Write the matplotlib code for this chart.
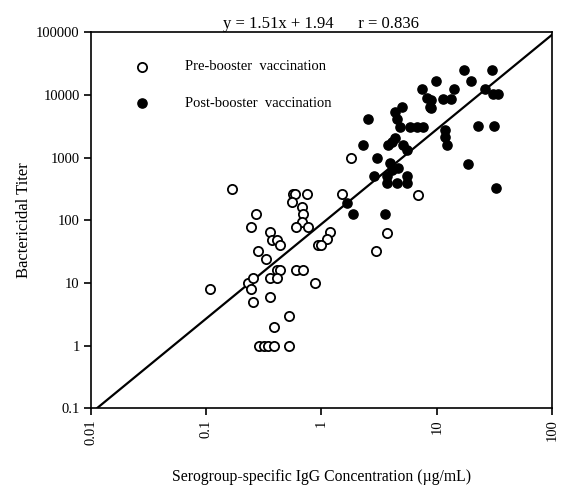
import numpy as np
import matplotlib
matplotlib.use('Agg')
from matplotlib import pyplot as plt
from matplotlib.ticker import FixedLocator, NullLocator

plt.rcParams['font.family'] = 'Liberation Serif'

# pre-booster (open circles)
pre_x = [0.108, 0.167, 0.27, 0.245, 0.357, 0.37, 0.414, 0.435, 0.279, 0.33,
         0.569, 0.59, 0.743, 0.56, 0.673, 0.69, 0.673, 0.6, 0.76, 0.94,
         0.41, 0.435, 0.6, 0.69, 0.232, 0.256, 0.246, 0.256, 0.357, 0.357,
         0.41, 0.88, 0.526, 0.387, 0.29, 0.317, 0.345, 0.387, 0.52,
         1.5, 1.19, 1.11, 1.0, 6.9, 3.72, 3.0, 1.79]
pre_y = [8, 320, 128, 78, 65, 48, 48, 40, 32, 24,
         260, 260, 260, 192, 164, 128, 94, 78, 78, 40,
         16, 16, 16, 16, 10, 12, 8, 5, 6, 12,
         12, 10, 3, 2, 1, 1, 1, 1, 1,
         260, 65, 50, 40, 251, 63, 32, 1000]

# post-booster (filled circles)
post_x = [17.3, 30, 9.85, 19.8, 7.4, 14.2, 26.2, 8.2, 8.7, 11.4,
          13.2, 9.0, 9.0, 31, 34.2, 22.9, 31.6, 11.8, 11.8, 12.35,
          18.5, 32.7, 4.34, 4.97, 4.49, 4.8, 2.55, 5.86, 6.7, 7.55,
          4.34, 4.1, 5.13, 5.48, 3.8, 2.28, 3.05, 3.93, 4.1, 4.64,
          3.68, 5.48, 5.48, 4.49, 3.68, 2.87, 1.65, 1.87, 3.56]
post_y = [25000, 25000, 16700, 16700, 12200, 12600, 12600, 8770, 6440, 8450,
          8450, 8230, 6070, 10500, 10500, 3170, 3170, 2735, 2140, 1580,
          785, 321, 5360, 6440, 4200, 3090, 4200, 3090, 3090, 3090,
          2020, 1780, 1580, 1310, 1580, 1580, 1000, 805, 630, 670,
          500, 500, 386, 386, 386, 500, 185, 125, 125]

slope = 1.51
intercept = 1.94

fig = plt.figure(figsize=(5.61, 4.96), dpi=100)
ax = fig.add_axes([0.162, 0.177, 0.822, 0.758])

ax.scatter(pre_x, pre_y, s=44, facecolors='white', edgecolors='black',
           linewidths=1.3, zorder=3, label='Pre-booster  vaccination')
ax.scatter(post_x, post_y, s=44, facecolors='black', edgecolors='black',
           linewidths=1.0, zorder=3, label='Post-booster  vaccination')

# regression line in log-log space
lx = np.array([0.005, 200])
ly = 10 ** (slope * np.log10(lx) + intercept)
ax.plot(lx, ly, color='black', lw=1.6, zorder=2)

ax.set_xscale('log')
ax.set_yscale('log')
ax.set_xlim(0.01, 100)
ax.set_ylim(0.1, 100000)

xt = [0.01, 0.1, 1, 10, 100]
yt = [0.1, 1, 10, 100, 1000, 10000, 100000]
ax.xaxis.set_major_locator(FixedLocator(xt))
ax.yaxis.set_major_locator(FixedLocator(yt))
ax.xaxis.set_minor_locator(NullLocator())
ax.yaxis.set_minor_locator(NullLocator())
ax.set_xticklabels(['0.01', '0.1', '1', '10', '100'], rotation=90, fontsize=10.5)
ax.set_yticklabels(['0.1', '1', '10', '100', '1000', '10000', '100000'], fontsize=10.5)
ax.tick_params(direction='out', length=5, width=1.2, pad=3)

for sp in ax.spines.values():
    sp.set_linewidth(1.2)

ax.set_ylabel('Bactericidal Titer', fontsize=12, labelpad=3)
ax.set_xlabel('Serogroup-specific IgG Concentration (\u00b5g/mL)', fontsize=11.3, labelpad=17)
ax.set_title('y = 1.51x + 1.94      r = 0.836', fontsize=12, pad=3)

ax.legend(loc='upper left', bbox_to_anchor=(0.066, 0.941), frameon=False,
          fontsize=10.5, handletextpad=2.0, labelspacing=1.6, borderaxespad=0)

plt.savefig('out.png', dpi=100)
